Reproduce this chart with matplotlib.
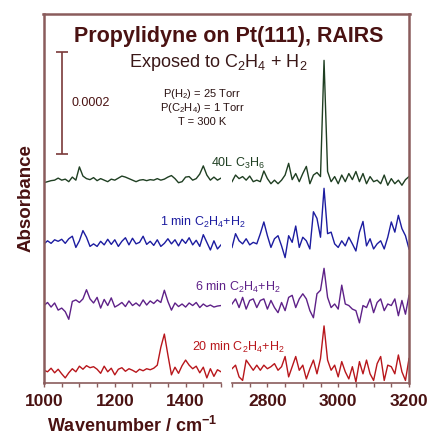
import numpy as np
import matplotlib.pyplot as plt
from matplotlib.lines import Line2D
from matplotlib.ticker import MultipleLocator

plt.rcParams["font.family"] = ["Liberation Sans", "DejaVu Sans"]
plt.rcParams["mathtext.fontset"] = "custom"
plt.rcParams["mathtext.rm"] = "Liberation Sans"
plt.rcParams["mathtext.it"] = "Liberation Sans"
plt.rcParams["mathtext.bf"] = "Liberation Sans:bold"

# wavenumber grids (cm-1) for the two spectral windows
wn_low = np.arange(1000, 1501, 10)
wn_high = np.arange(2700, 3201, 10)

# absorbance in units of 1e-5, relative to each trace's own baseline
green_low = [-0.5, -0.3, -0.1, 0.0, 0.4, 0.0, 0.2, -0.3, 0.6, 0.0,
             2.6, 0.8, 0.3, 0.1, 0.5, -0.1, 0.3, 0.0, -0.3, 0.2,
             0.0, 0.4, 0.8, 0.6, 0.3, 0.0, -0.3, 0.0, 0.1, -0.1,
             0.1, 0.0, 0.3, 0.0, 0.2, 0.6, 0.9, 0.3, -0.5, -0.3,
             0.6, 0.7, 0.0, 0.3, 1.2, 2.8, 1.0, 0.0, 0.6, 0.0, 0.4]
blue_low = [-0.3, 0.3, -0.2, 0.5, 0.2, 0.6, -0.2, 0.7, 1.2, -1.0,
            0.3, 2.3, 1.0, -0.8, -0.3, -0.8, 0.2, -0.5, 0.6, -0.4,
            0.5, -0.8, 0.2, 0.9, -0.5, 0.8, -0.3, 0.0, 1.2, -0.4,
            0.2, -0.6, 0.5, -0.8, -0.2, 0.7, -0.3, 0.5, -0.7, 0.6,
            -0.2, 0.9, -0.5, 0.4, -0.8, 1.5, 0.0, -1.5, 0.3, -1.3, -0.5]
purple_low = [-0.3, 0.3, -0.6, 0.2, -1.2, -0.8, -1.5, -3.0, 0.5, 0.8,
              0.3, 1.0, 2.8, 1.0, 0.2, 1.3, -0.8, 0.9, -0.3, 1.2,
              -0.6, -0.2, 0.3, -0.5, 0.6, -0.3, 0.2, -0.4, 0.8, -0.2,
              0.6, 0.1, 0.8, 0.3, 2.7, 0.5, -1.2, 0.2, -0.5, 0.0,
              -0.6, 0.2, -0.3, 0.3, -0.7, 0.0, -0.5, -0.2, -0.6, -0.4, -0.3]
red_low = [0.0, -0.3, 0.4, -0.5, 0.2, -0.7, -1.5, -0.5, 0.3, -0.3,
           0.8, 0.2, 0.9, 0.5, 0.7, 0.2, -0.6, 0.8, -0.3, 0.4,
           -0.9, 0.2, 0.5, -0.2, 0.3, 0.0, -0.4, 0.2, -0.1, 0.3,
           0.1, 0.4, 1.0, 4.5, 7.1, 3.0, -0.9, 0.6, -0.6, 0.9,
           2.0, 1.0, 0.3, 0.8, -0.5, 0.6, -1.5, 0.3, -1.2, 0.1, -0.3]

green_high = [-0.3, 1.0, 0.3, 0.7, 0.0, 0.8, -0.3, 0.0, -0.3, 1.8,
              0.3, -0.7, 0.0, -0.7, 0.0, 1.0, 3.3, 0.1, 1.3, -0.3,
              1.3, 2.7, -0.7, 1.0, 1.5, 0.7, 23.5, 1.7, -0.3, 0.7,
              -0.7, 1.0, -0.3, 1.3, 0.1, 1.7, -0.3, 1.3, -0.7, 0.7,
              -0.3, 0.0, -0.7, 1.0, -1.0, 0.3, -0.7, 0.0, -1.0, 0.1, 0.7]
blue_high = [-1.0, 1.7, 0.3, -0.3, 0.7, -0.5, 0.0, -0.3, 1.7, 4.0,
             1.3, -1.0, 0.7, 1.3, -0.7, -3.0, 1.3, 0.0, 3.2, -1.0,
             1.0, 0.3, -1.3, 6.0, 4.7, 1.0, 10.6, 1.7, 2.0, -0.3,
             -1.0, 0.3, -0.7, 1.0, -0.3, -1.7, 2.0, 4.1, -0.7, 0.7,
             -1.3, -0.3, 0.3, -1.3, 1.0, 4.0, 2.0, 5.3, 2.7, 1.3, -1.3]
purple_high = [0.0, 1.0, -0.7, 1.3, -1.0, 0.7, 1.0, -0.7, 0.7, 1.0,
               -1.0, 0.7, -0.7, -1.7, 0.3, -1.3, 1.3, 1.7, -0.7, 1.0,
               2.0, 1.0, -1.3, -2.7, 2.0, 2.7, 7.0, 1.3, -0.7, 0.0,
               -1.0, 3.7, 0.0, -0.3, -1.0, -1.3, -3.7, -0.3, -0.7, 1.0,
               -1.7, 0.3, 1.0, -1.3, 0.0, -0.3, 1.0, -2.3, 0.7, -2.0, 1.7]
red_high = [0.3, 1.0, -1.3, -2.0, 2.0, 1.0, 0.0, 1.0, 0.0, 1.0,
            0.3, 0.7, 1.3, 0.0, 0.7, 2.7, -1.3, 0.7, 2.7, 0.0,
            1.0, -1.7, 0.3, 2.0, -0.7, 2.3, 8.7, 2.0, 0.0, 1.0,
            -1.3, 1.7, -0.3, -1.7, 0.7, -2.3, 1.7, -0.7, 2.0, -0.7,
            -2.0, 1.3, 2.7, -2.0, 1.0, 0.7, -0.7, 3.0, -0.3, -2.0, 2.3]

trace_names = ["40L C$_3$H$_6$", "1 min C$_2$H$_4$+H$_2$",
               "6 min C$_2$H$_4$+H$_2$", "20 min C$_2$H$_4$+H$_2$"]
trace_colors = ["#1f3f22", "#1c1ca0", "#5e2188", "#b8161b"]
trace_offsets = [39.8, 27.6, 15.5, 2.5]
low_sets = [green_low, blue_low, purple_low, red_low]
high_sets = [green_high, blue_high, purple_high, red_high]

frame_col = "#8a5c5c"
text_col = "#4a1212"

W, H = 430, 438
fig = plt.figure(figsize=(W / 100, H / 100), dpi=100)


def fx(x):
    return x / W


def fy(y):
    return 1 - y / H


ax_lo = fig.add_axes([fx(44), fy(383), fx(177), 369 / H])
ax_hi = fig.add_axes([fx(232), fy(383), fx(177), 369 / H])

for ax, wn, sets, xlim in [(ax_lo, wn_low, low_sets, (1000, 1500)),
                            (ax_hi, wn_high, high_sets, (2700, 3200))]:
    for vals, off, col in zip(sets, trace_offsets, trace_colors):
        ax.plot(wn, np.array(vals) + off, color=col, lw=1.0)
    ax.set_xlim(*xlim)
    ax.set_ylim(0, 72.4)
    ax.set_yticks([])
    ax.xaxis.set_minor_locator(MultipleLocator(50))
    ax.tick_params(axis="x", which="both", direction="out", length=3,
                   width=1, color=frame_col, labelsize=12.5,
                   labelcolor=text_col, pad=5)
    ax.spines["top"].set_visible(False)
    ax.spines["bottom"].set_color(frame_col)
    ax.spines["bottom"].set_linewidth(1.2)
    ax.patch.set_alpha(0)

ax_lo.set_xticks([1000, 1200, 1400])
ax_hi.set_xticks([2800, 3000, 3200])
for ax in (ax_lo, ax_hi):
    for lab in ax.get_xticklabels():
        lab.set_fontweight("bold")

ax_lo.spines["right"].set_visible(False)
ax_lo.spines["left"].set_color(frame_col)
ax_lo.spines["left"].set_linewidth(1.8)
ax_hi.spines["left"].set_visible(False)
ax_hi.spines["right"].set_color(frame_col)
ax_hi.spines["right"].set_linewidth(1.8)

# continuous top edge of the frame
fig.add_artist(Line2D([fx(43), fx(410)], [fy(14), fy(14)], color=frame_col,
                      lw=1.8, transform=fig.transFigure))

ax_lo.set_xlabel(r"Wavenumber / cm$^{\mathbf{-1}}$", fontsize=13,
                 fontweight="bold", color=text_col, labelpad=5)
ax_lo.set_ylabel("Absorbance", fontsize=13.5, fontweight="bold",
                 color=text_col, labelpad=7)

# 0.0002 absorbance scale bar
ax_lo.errorbar([1051], [54.9], yerr=[10.0], color="#7a3a3a", lw=1.2,
               capsize=4.5, capthick=1.2)
ax_lo.text(1078, 54.9, "0.0002", fontsize=9, color=text_col, va="center")

fig.text(fx(229), fy(42), "Propylidyne on Pt(111), RAIRS", fontsize=15.5,
         fontweight="bold", color=text_col, ha="center", va="baseline")
fig.text(fx(218), fy(67), "Exposed to C$_2$H$_4$ + H$_2$", fontsize=13,
         color="#3a1818", ha="center", va="baseline")
fig.text(fx(202), fy(97), "P(H$_2$) = 25 Torr", fontsize=8, color="#2a1212",
         ha="center", va="baseline")
fig.text(fx(202), fy(111), "P(C$_2$H$_4$) = 1 Torr", fontsize=8,
         color="#2a1212", ha="center", va="baseline")
fig.text(fx(202), fy(125), "T = 300 K", fontsize=8, color="#2a1212",
         ha="center", va="baseline")

label_pos = [(238, 167), (203, 226), (238, 291), (238, 351)]
for name, col, (lx, ly) in zip(trace_names, trace_colors, label_pos):
    fig.text(fx(lx), fy(ly), name, fontsize=9, color=col, ha="center",
             va="baseline")

fig.savefig("out.png", dpi=100)
